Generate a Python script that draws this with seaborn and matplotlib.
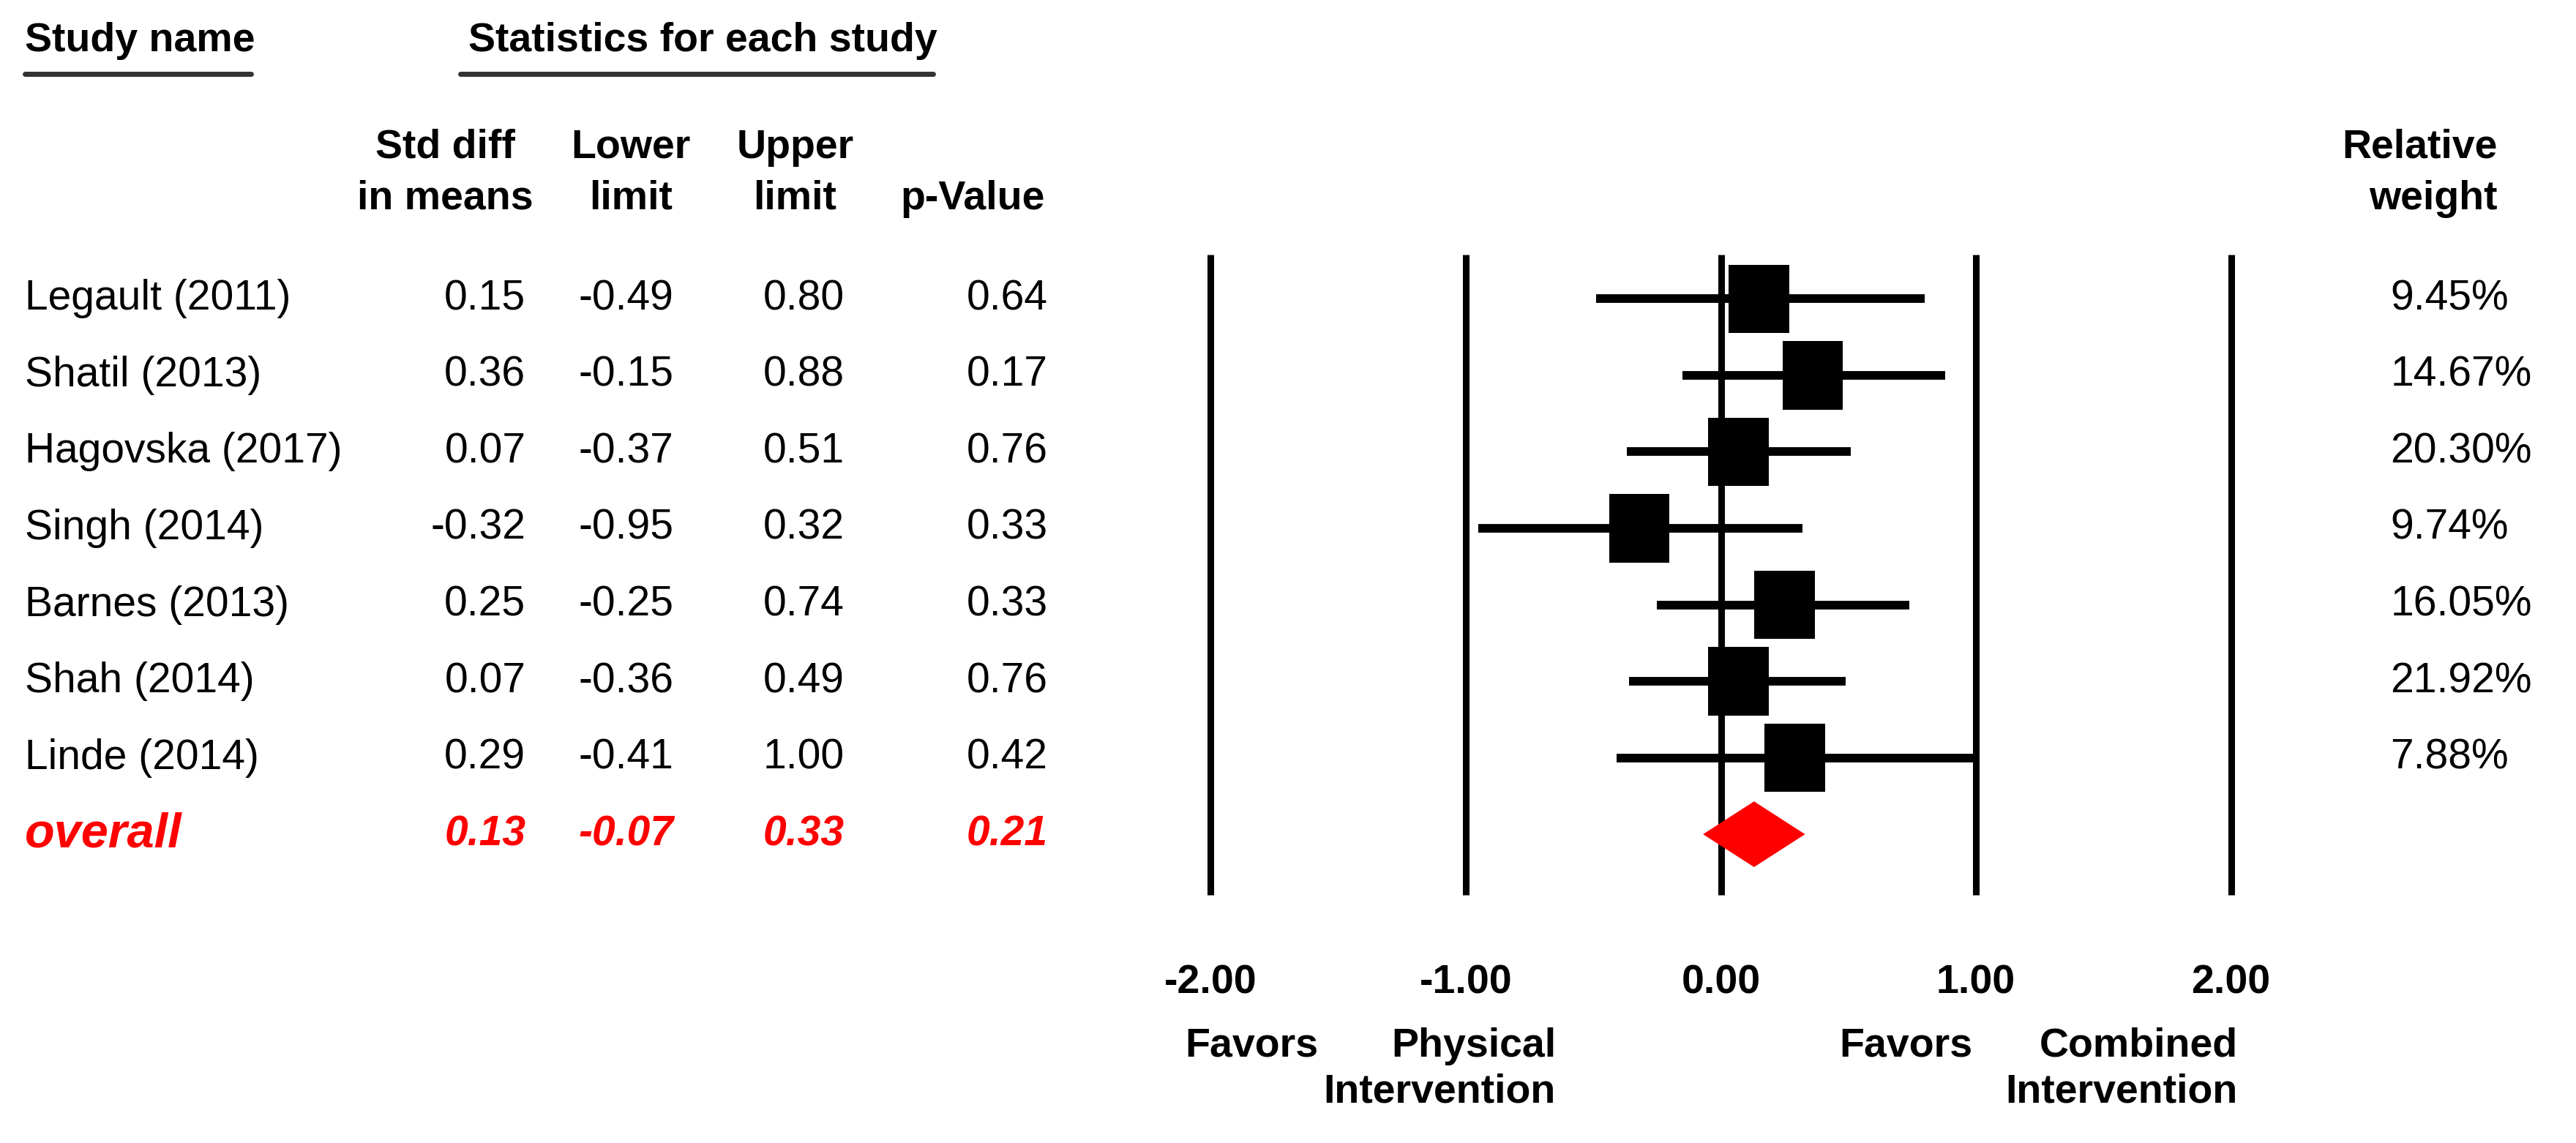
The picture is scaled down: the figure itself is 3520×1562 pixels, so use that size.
import matplotlib
matplotlib.use("Agg")
import matplotlib.pyplot as plt
import matplotlib.transforms as mtransforms
import seaborn as sns
import pandas as pd

# data
studies = ["Legault (2011)", "Shatil (2013)", "Hagovska (2017)", "Singh (2014)",
           "Barnes (2013)", "Shah (2014)", "Linde (2014)"]
std_diff = [0.15, 0.36, 0.07, -0.32, 0.25, 0.07, 0.29]
lower = [-0.49, -0.15, -0.37, -0.95, -0.25, -0.36, -0.41]
upper = [0.80, 0.88, 0.51, 0.32, 0.74, 0.49, 1.00]
p_values = [0.64, 0.17, 0.76, 0.33, 0.33, 0.76, 0.42]
weights = [9.45, 14.67, 20.30, 9.74, 16.05, 21.92, 7.88]

overall_label = "overall"
overall_est = 0.13
overall_lower = -0.07
overall_upper = 0.33
overall_p = 0.21

x_ticks = [-2.0, -1.0, 0.0, 1.0, 2.0]

df = pd.DataFrame({
    "study": studies,
    "std_diff": std_diff,
    "lower": lower,
    "upper": upper,
    "p": p_values,
    "weight": weights,
})
df["row"] = range(len(df))
overall_row = len(df)

sns.set_theme(style="white")
plt.rcParams["font.family"] = ["Liberation Sans", "DejaVu Sans"]
plt.rcParams["text.color"] = "black"
plt.rcParams["xtick.color"] = "black"
plt.rcParams["xtick.labelcolor"] = "black"

W, H = 1568.0, 696.0  # layout grid


def fx(x):
    return x / W


def fy(y):
    return 1 - y / H


fig = plt.figure(figsize=(35.2, 15.62), dpi=100)
fig.patch.set_facecolor("white")

# forest axes: x in effect size units, y in rows
row_px = 46.57
y_top, y_bot = 140, 560
unit = 155.25
x_left = 737 - 0.6 * unit
x_right = 1358 + 0.6 * unit
ax = fig.add_axes([fx(x_left), fy(y_bot), fx(x_right) - fx(x_left), (y_bot - y_top) / H])
ax.set_xlim(-2.6, 2.6)
ax.set_ylim((y_bot - 182) / row_px, (y_top - 182) / row_px)
ax.set_facecolor("white")
for s in ax.spines.values():
    s.set_visible(False)

ax.vlines(x_ticks, (155 - 182) / row_px, (545 - 182) / row_px, color="black", lw=6.5, zorder=1)
ax.hlines(df["row"], df["lower"], df["upper"], color="black", lw=8.5, zorder=2)
box = [(-0.89, -1), (0.89, -1), (0.89, 1), (-0.89, 1), (-0.89, -1)]
sns.scatterplot(data=df, x="std_diff", y="row", marker=box, s=4500, color="black",
                edgecolor="none", legend=False, ax=ax, zorder=3)
h = 20 / row_px
ax.fill([overall_lower, overall_est, overall_upper, overall_est],
        [overall_row, overall_row - h, overall_row, overall_row + h],
        color="#ff0000", lw=0, zorder=3)

ax.set_xticks(x_ticks)
ax.set_xticklabels([f"{t:.2f}" for t in x_ticks], fontsize=40, fontweight="bold", color="black")
ax.set_yticks([])
ax.tick_params(axis="x", length=0, pad=44)
ax.set_xlabel("")
ax.set_ylabel("")

# column text rows
tr = mtransforms.blended_transform_factory(fig.transFigure, ax.transData)
fs = 41
for _, r in df.iterrows():
    y = r["row"]
    fig.text(fx(15), y, r["study"], transform=tr, ha="left", va="center", fontsize=fs)
    fig.text(fx(320), y, f"{r['std_diff']:.2f}", transform=tr, ha="right", va="center", fontsize=fs)
    fig.text(fx(410), y, f"{r['lower']:.2f}", transform=tr, ha="right", va="center", fontsize=fs)
    fig.text(fx(514), y, f"{r['upper']:.2f}", transform=tr, ha="right", va="center", fontsize=fs)
    fig.text(fx(638), y, f"{r['p']:.2f}", transform=tr, ha="right", va="center", fontsize=fs)
    fig.text(fx(1455), y, f"{r['weight']:.2f}%", transform=tr, ha="left", va="center", fontsize=fs)

red = dict(color="#ff0000", fontweight="bold", fontstyle="italic", va="center", transform=tr)
fig.text(fx(15), overall_row, overall_label, ha="left", fontsize=48, **red)
fig.text(fx(320), overall_row, f"{overall_est:.2f}", ha="right", fontsize=fs, **red)
fig.text(fx(410), overall_row, f"{overall_lower:.2f}", ha="right", fontsize=fs, **red)
fig.text(fx(514), overall_row, f"{overall_upper:.2f}", ha="right", fontsize=fs, **red)
fig.text(fx(638), overall_row, f"{overall_p:.2f}", ha="right", fontsize=fs, **red)

# headers
hb = dict(fontsize=40, fontweight="bold", va="center")
fig.text(fx(15), fy(25), "Study name", ha="left", **hb)
fig.text(fx(285), fy(25), "Statistics for each study", ha="left", **hb)
fig.add_artist(plt.Line2D([fx(15), fx(153)], [fy(45), fy(45)], color="#333333", lw=5))
fig.add_artist(plt.Line2D([fx(280), fx(568)], [fy(45), fy(45)], color="#333333", lw=5))
fig.text(fx(271), fy(90), "Std diff", ha="center", **hb)
fig.text(fx(271), fy(121), "in means", ha="center", **hb)
fig.text(fx(384), fy(90), "Lower", ha="center", **hb)
fig.text(fx(384), fy(121), "limit", ha="center", **hb)
fig.text(fx(484), fy(90), "Upper", ha="center", **hb)
fig.text(fx(484), fy(121), "limit", ha="center", **hb)
fig.text(fx(592), fy(121), "p-Value", ha="center", **hb)
fig.text(fx(1520), fy(90), "Relative", ha="right", **hb)
fig.text(fx(1520), fy(121), "weight", ha="right", **hb)

# direction labels
fig.text(fx(762), fy(637), "Favors", ha="center", **hb)
fig.text(fx(947), fy(637), "Physical", ha="right", **hb)
fig.text(fx(947), fy(665), "Intervention", ha="right", **hb)
fig.text(fx(1160), fy(637), "Favors", ha="center", **hb)
fig.text(fx(1362), fy(637), "Combined", ha="right", **hb)
fig.text(fx(1362), fy(665), "Intervention", ha="right", **hb)

fig.savefig("out.png", dpi=100, facecolor="white")
